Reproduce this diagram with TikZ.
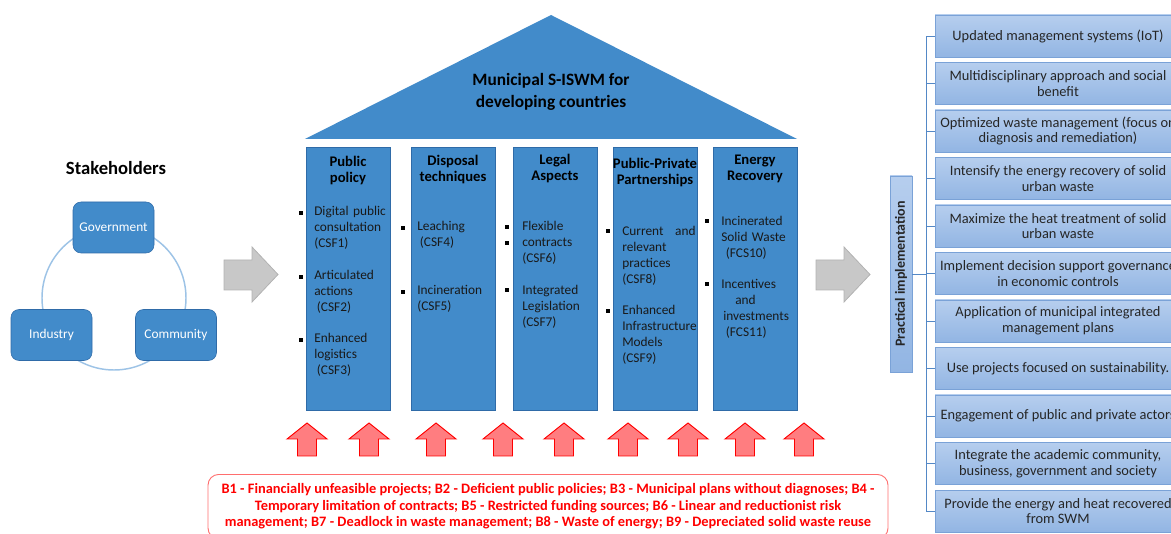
\documentclass[tikz,border=0pt]{standalone}
\usepackage{fontspec}
\setmainfont{Carlito}
\usepackage{tikz}
\definecolor{pillarBlue}{RGB}{66,139,202}
\definecolor{pillarEdge}{RGB}{47,107,168}
\definecolor{ringBlue}{RGB}{157,195,230}
\definecolor{listTop}{RGB}{182,206,238}
\definecolor{listBottom}{RGB}{146,181,227}
\definecolor{listEdge}{RGB}{122,162,215}
\definecolor{treeBlue}{RGB}{84,136,198}
\definecolor{arrowGray}{RGB}{200,200,200}
\definecolor{arrowGrayEdge}{RGB}{178,178,178}
\definecolor{barrierRed}{RGB}{255,0,0}
\definecolor{barrierFill}{RGB}{255,125,128}
\definecolor{barrierEdge}{RGB}{255,110,110}
\tikzset{
    stakeBox/.style={draw=pillarEdge, fill=pillarBlue, rounded corners=6pt,
        minimum width=60.75pt, minimum height=38.25pt, text=white,
        font=\fontsize{10}{12}\selectfont},
    pillar/.style={draw=pillarEdge, fill=pillarBlue, minimum width=63pt,
        minimum height=197.25pt, inner sep=0pt},
    pillarTitle/.style={align=center, inner sep=0pt,
        font=\fontsize{11}{12}\selectfont\bfseries},
    pillarItem/.style={anchor=north west, align=left, text width=58pt,
        inner sep=0pt, font=\fontsize{10}{12}\selectfont, text=black!90},
    listBox/.style={draw=listEdge, top color=listTop, bottom color=listBottom,
        minimum width=184.5pt, minimum height=31.5pt, align=center,
        inner sep=2pt, font=\fontsize{10.8}{11.8}\selectfont, text=black!85},
    treeLine/.style={draw=treeBlue, line width=0.7pt},
    grayArrow/.style={fill=arrowGray, draw=arrowGrayEdge, line width=0.6pt},
    redArrow/.style={fill=barrierFill, draw=barrierRed, line width=0.7pt},
    bulletMark/.style={fill=black}
}
\newcommand{\bulletAt}[2]{\fill[bulletMark] (#1-1.7,#2-1.7) rectangle (#1+1.7,#2+1.7);}

\begin{document}
\begin{tikzpicture}[x=0.75pt, y=-0.75pt]
    \clip (0,0) rectangle (1171,534);

    % Stakeholders
    \node[font=\fontsize{14}{16}\selectfont\bfseries] (stakeTitle) at (116,168) {Stakeholders};
    \draw[ringBlue, line width=1.1pt] (114,298) circle[radius=54pt];
    \node[stakeBox] (gov) at (113.5,227.5) {Government};
    \node[stakeBox] (ind) at (51.5,335) {Industry};
    \node[stakeBox] (com) at (176,335) {Community};

    % Block arrows
    \foreach \x in {224,816}
        \draw[grayArrow] (\x,260) -- (\x+28,260) -- (\x+28,247) -- (\x+54,274.5)
            -- (\x+28,302) -- (\x+28,290) -- (\x,290) -- cycle;

    % Roof
    \fill[pillarBlue] (305,139) -- (551,15) -- (797,139) -- cycle;
    \node[align=center, font=\fontsize{13}{16.5}\selectfont\bfseries] (roof) at (551,92)
        {Municipal S-ISWM for\\developing countries};

    % Pillars
    \node[pillar] (p1) at (348,278.5) {};
    \node[pillar] (p2) at (453,278.5) {};
    \node[pillar] (p3) at (555,278.5) {};
    \node[pillar] (p4) at (655,278.5) {};
    \node[pillar] (p5) at (755,278.5) {};

    \node[pillarTitle] (t1) at (348,171) {Public\\policy};
    \node[pillarTitle] (t2) at (453,169.5) {Disposal\\techniques};
    \node[pillarTitle] (t3) at (555,169) {Legal\\Aspects};
    \node[pillarTitle] (t4) at (655,173) {Public-Private\\Partnerships};
    \node[pillarTitle] (t5) at (755,169) {Energy\\Recovery};

    \node[pillarItem] (csf1) at (314,206) {Digital public\\consultation\\(CSF1)};
    \node[pillarItem] (csf2) at (314,270) {Articulated\\actions\\\hspace{2pt}(CSF2)};
    \node[pillarItem] (csf3) at (314,333) {Enhanced\\logistics\\\hspace{2pt}(CSF3)};
    \bulletAt{301}{213} \bulletAt{301}{277} \bulletAt{301}{340}

    \node[pillarItem] (csf4) at (417,221) {Leaching\\\hspace{2pt}(CSF4)};
    \node[pillarItem] (csf5) at (417,285) {Incineration\\(CSF5)};
    \bulletAt{403}{228} \bulletAt{403}{292}

    \node[pillarItem] (csf6) at (522,221) {Flexible\\contracts\\(CSF6)};
    \node[pillarItem] (csf7) at (522,285) {Integrated\\Legislation\\(CSF7)};
    \bulletAt{507}{227} \bulletAt{507}{243} \bulletAt{507}{290}

    \node[pillarItem, text width=55pt] (csf8) at (622,226) {Current\hfill and\\relevant\\practices\\(CSF8)};
    \node[pillarItem] (csf9) at (622,305) {Enhanced\\Infrastructure\\Models\\(CSF9)};
    \bulletAt{608}{231} \bulletAt{608}{311}

    \node[pillarItem] (fcs10) at (721,216) {Incinerated\\Solid Waste\\\hspace{3.5pt}(FCS10)};
    \node[pillarItem] (fcs11) at (721,279) {Incentives\\\hspace{10.5pt}and\\\hspace{1.5pt}investments\\\hspace{3.5pt}(FCS11)};
    \bulletAt{707}{221} \bulletAt{707}{284}

    % Barriers
    \foreach \x in {307,369,436,503,564,628,688,745,804}
        \draw[redArrow] (\x,423) -- (\x+20,439) -- (\x+9.5,439) -- (\x+9.5,456)
            -- (\x-9.5,456) -- (\x-9.5,439) -- (\x-20,439) -- cycle;
    \node[draw=barrierEdge, line width=0.7pt, rounded corners=8pt, anchor=north,
        minimum width=510pt, inner xsep=4pt, inner ysep=7pt, align=center,
        text=barrierRed, font=\fontsize{10.8}{12.4}\selectfont\bfseries] (barriers) at (548,474)
        {B1 - Financially unfeasible projects; B2 - Deficient public policies; B3 - Municipal plans without diagnoses; B4 -\\
         Temporary limitation of contracts; B5 - Restricted funding sources; B6 - Linear and reductionist risk\\
         management; B7 - Deadlock in waste management; B8 - Waste of energy; B9 - Depreciated solid waste reuse};

    % Practical implementation
    \node[draw=listEdge, top color=listTop, bottom color=listBottom, rotate=90,
        minimum width=147pt, minimum height=16.5pt, inner sep=0pt,
        font=\fontsize{10.5}{12}\selectfont\bfseries, text=black!85] (impl) at (901,274)
        {Practical implementation};
    \coordinate (trunk) at (926,274);

    \node[listBox] (r1) at (1058,36) {Updated management systems (IoT)};
    \node[listBox] (r2) at (1058,83.5) {Multidisciplinary approach and social\\benefit};
    \node[listBox] (r3) at (1058,131) {Optimized waste management (focus on\\diagnosis and remediation)};
    \node[listBox] (r4) at (1058,178.5) {Intensify the energy recovery of solid\\urban waste};
    \node[listBox] (r5) at (1058,226) {Maximize the heat treatment of solid\\urban waste};
    \node[listBox] (r6) at (1058,273.5) {Implement decision support governance\\in economic controls};
    \node[listBox] (r7) at (1058,321) {Application of municipal integrated\\management plans};
    \node[listBox] (r8) at (1058,368.5) {Use projects focused on sustainability.};
    \node[listBox] (r9) at (1058,416) {Engagement of public and private actors};
    \node[listBox] (r10) at (1058,463.5) {Integrate the academic community,\\business, government and society};
    \node[listBox] (r11) at (1058,511) {Provide the energy and heat recovered\\from SWM};

    \foreach \i in {1,...,11}
        \draw[treeLine] (impl.south) -- (trunk) |- (r\i.west);
\end{tikzpicture}
\end{document}
